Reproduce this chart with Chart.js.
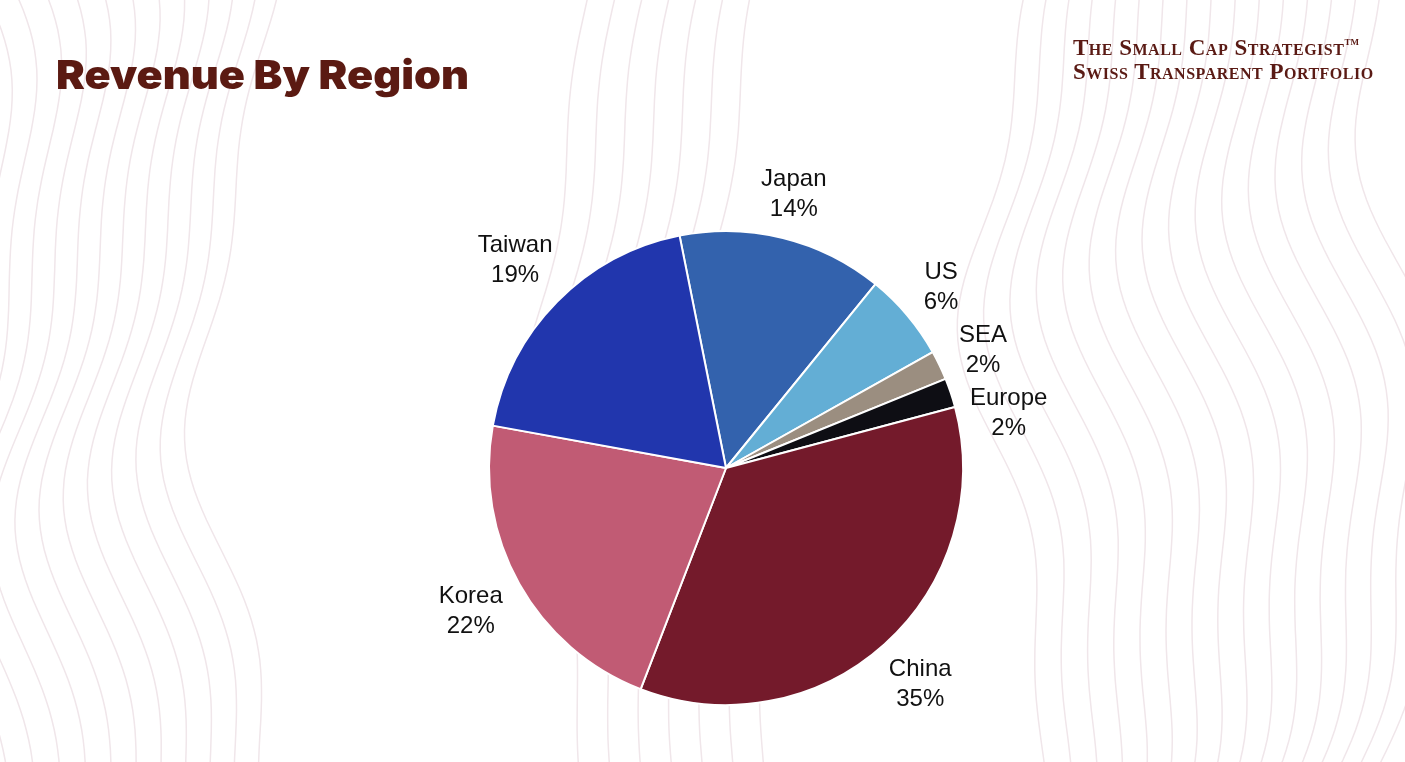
<!DOCTYPE html>
<html>
<head>
<meta charset="utf-8">
<script src="https://cdn.jsdelivr.net/npm/chart.js@4.4.1/dist/chart.umd.min.js"></script>
<style>
  html, body { margin: 0; padding: 0; background: #ffffff; }
  #wrap { position: relative; width: 1405px; height: 762px; overflow: hidden; }
  #bg { position: absolute; left: 0; top: 0; }
  #chart { position: absolute; left: 0; top: 0; }
  #title {
    position: absolute; left: 56px; top: 50px; margin: 0;
    font-family: Inter, "Open Sans", sans-serif; font-weight: 900; font-size: 40px;
    color: #5b1a12; transform: scaleX(1.08); transform-origin: left top;
  }
  #brand {
    position: absolute; left: 1073px; top: 30px;
    font-family: "Liberation Serif", "DejaVu Serif", serif; font-weight: bold;
    font-variant: small-caps; font-size: 23px; line-height: 24px; color: #5a1a14;
    letter-spacing: 0.5px; white-space: nowrap;
  }
  #brand sup { font-size: 9px; vertical-align: 10px; letter-spacing: 0; }
</style>
</head>
<body>
<div id="wrap">
  <svg id="bg" width="1405" height="762"></svg>
  <canvas id="chart" width="1405" height="762"></canvas>
  <h1 id="title">Revenue By Region</h1>
  <div id="brand">The Small Cap Strategist<sup>TM</sup><br>Swiss Transparent Portfolio</div>
</div>
<script>
const regions = ["Japan", "US", "SEA", "Europe", "China", "Korea", "Taiwan"];
const shares = [14, 6, 2, 2, 35, 22, 19];
const sliceColors = ["#3362ad", "#63aed5", "#9b8e80", "#0e0e14", "#741a2b", "#c15b74", "#2136ad"];

// faint contour lines in the background (decoration only)
function drawContours() {
  const svg = document.getElementById("bg");
  let paths = "";
  function band(x0, count, gap, amp, phase) {
    for (let i = 0; i < count; i++) {
      let d = "";
      for (let y = -10; y <= 772; y += 10) {
        const x = x0 + i * gap +
          amp * Math.sin(y / 130 + phase + i * 0.12) +
          amp * 0.35 * Math.sin(y / 55 + phase * 2 + i * 0.2);
        d += (y === -10 ? "M" : "L") + x.toFixed(1) + "," + y;
      }
      paths += '<path d="' + d + '" fill="none" stroke="#f0e6ea" stroke-width="1.5"/>';
    }
  }
  band(-30, 12, 24, 38, 0.3);
  band(560, 7, 30, 30, 1.7);
  band(1010, 16, 26, 40, 2.4);
  svg.innerHTML = paths;
}
drawContours();

const outsideLabels = {
  id: "outsideLabels",
  afterDatasetsDraw(chart) {
    const ctx = chart.ctx;
    const meta = chart.getDatasetMeta(0);
    const lineH = 30;
    const blockH = 40;
    ctx.save();
    ctx.font = "24px 'Liberation Sans', Arial, sans-serif";
    ctx.fillStyle = "#111111";
    ctx.textAlign = "center";
    ctx.textBaseline = "middle";
    const items = meta.data.map((arc, i) => {
      const p = arc.getProps(["x", "y", "startAngle", "endAngle", "outerRadius"], true);
      const a = (p.startAngle + p.endAngle) / 2;
      const l1 = regions[i];
      const l2 = shares[i] + "%";
      const w = Math.max(ctx.measureText(l1).width, ctx.measureText(l2).width);
      const dx = Math.cos(a), dy = Math.sin(a);
      const dist = p.outerRadius + 18 + Math.abs(dx) * w / 2 + Math.abs(dy) * blockH / 2;
      return { l1, l2, x: p.x + dx * dist, y: p.y + dy * dist, right: dx > 0 };
    });
    // keep labels on the right side from overlapping
    const right = items.filter(it => it.right).sort((a, b) => a.y - b.y);
    for (let k = 1; k < right.length; k++) {
      if (right[k].y - right[k - 1].y < 63) right[k].y = right[k - 1].y + 63;
    }
    items.forEach(it => {
      ctx.fillText(it.l1, it.x, it.y - lineH / 2);
      ctx.fillText(it.l2, it.x, it.y + lineH / 2);
    });
    ctx.restore();
  }
};

new Chart(document.getElementById("chart"), {
  type: "pie",
  data: {
    labels: regions,
    datasets: [{
      data: shares,
      backgroundColor: sliceColors,
      borderColor: "#ffffff",
      borderWidth: 2
    }]
  },
  options: {
    responsive: false,
    animation: false,
    rotation: -11.3,
    layout: { padding: { top: 230, bottom: 56, left: 400, right: 353 } },
    plugins: {
      legend: { display: false },
      tooltip: { enabled: false }
    }
  },
  plugins: [outsideLabels]
});
</script>
</body>
</html>
